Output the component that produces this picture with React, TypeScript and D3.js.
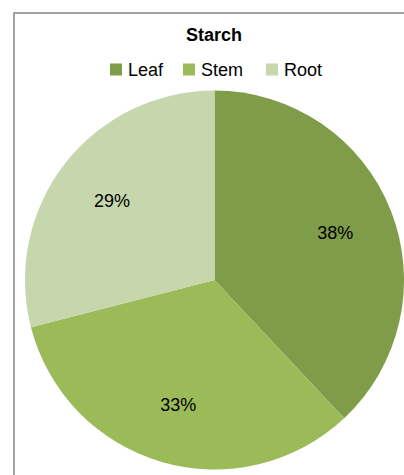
import React from "react";
import * as d3 from "d3";

const categories = ["Leaf", "Stem", "Root"];
const values = [38, 33, 29];
const colors = ["#7F9C48", "#9BBB59", "#C6D6AD"];
const title = "Starch";

const W = 404;
const H = 475;
const cx = 214.5;
const cy = 280;
const R = 189.5;

export default function App() {
  const pie = d3.pie<number>().sort(null).value((d) => d);
  const arcs = pie(values);
  const arcGen = d3.arc<d3.PieArcDatum<number>>().innerRadius(0).outerRadius(R);
  const labelArc = d3.arc<d3.PieArcDatum<number>>().innerRadius(R * 0.685).outerRadius(R * 0.685);
  const total = d3.sum(values);
  const font = "'Liberation Sans', Arial, sans-serif";

  const legendX = [110, 183, 266];

  return (
    <svg
      width={W}
      height={H}
      style={{ position: "absolute", left: 0, top: 0, background: "#fff" }}
    >
      <rect x={14} y={13} width={W} height={H} fill="#fff" stroke="#878787" strokeWidth={1.5} />
      <text x={214} y={41} textAnchor="middle" fontFamily={font} fontSize={18} fontWeight="bold" fill="#000">
        {title}
      </text>
      {categories.map((c, i) => (
        <g key={c}>
          <rect x={legendX[i]} y={63.5} width={12} height={12} fill={colors[i]} />
          <text x={legendX[i] + 18} y={76} fontFamily={font} fontSize={18} fill="#000">
            {c}
          </text>
        </g>
      ))}
      <g transform={`translate(${cx},${cy})`}>
        {arcs.map((a, i) => (
          <path key={i} d={arcGen(a) || ""} fill={colors[i]} />
        ))}
        {arcs.map((a, i) => {
          const [lx, ly] = labelArc.centroid(a);
          return (
            <text
              key={"l" + i}
              x={lx}
              y={ly}
              dy="0.35em"
              textAnchor="middle"
              fontFamily={font}
              fontSize={18}
              fill="#000"
            >
              {Math.round((values[i] / total) * 100) + "%"}
            </text>
          );
        })}
      </g>
    </svg>
  );
}
